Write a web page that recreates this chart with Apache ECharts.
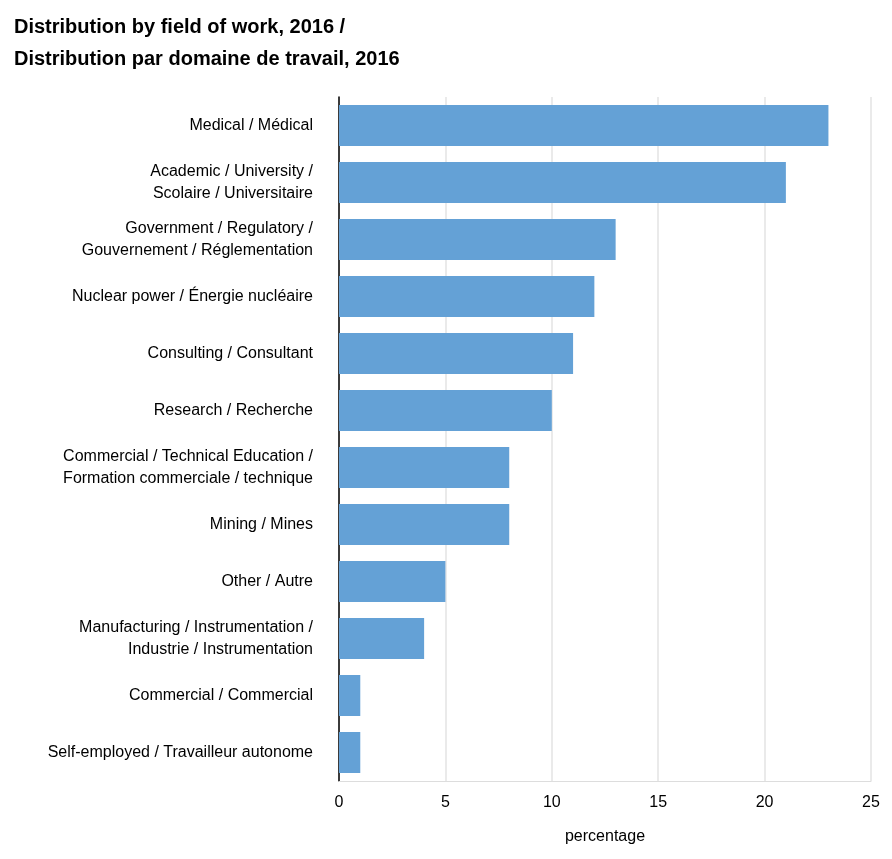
<!DOCTYPE html>
<html><head><meta charset="utf-8">
<script src="https://cdn.jsdelivr.net/npm/echarts@6/dist/echarts.min.js"></script>
<style>html,body{margin:0;padding:0;background:#fff}#c{width:892px;height:859px}</style>
</head><body><div id="c"></div>
<script>
const categories = [
 "Medical / Médical",
 "Academic / University /\nScolaire / Universitaire",
 "Government / Regulatory /\nGouvernement / Réglementation",
 "Nuclear power / Énergie nucléaire",
 "Consulting / Consultant",
 "Research / Recherche",
 "Commercial / Technical Education /\nFormation commerciale / technique",
 "Mining / Mines",
 "Other / Autre",
 "Manufacturing / Instrumentation /\nIndustrie / Instrumentation",
 "Commercial / Commercial",
 "Self-employed / Travailleur autonome"
];
const values = [23, 21, 13, 12, 11, 10, 8, 8, 5, 4, 1, 1];
const xTicks = [0, 5, 10, 15, 20, 25];
const chart = echarts.init(document.getElementById('c'));
chart.setOption({
 animation:false,
 textStyle:{fontFamily:'Liberation Sans, Arial, sans-serif'},
 title:{text:'Distribution by field of work, 2016 /\nDistribution par domaine de travail, 2016',left:9,top:6,
  textStyle:{fontSize:20,fontWeight:'bold',color:'#000',lineHeight:32,fontFamily:'Liberation Sans, Arial, sans-serif'}},
 grid:{left:339,right:21,top:97,bottom:78,containLabel:false},
 xAxis:{type:'value',min:xTicks[0],max:xTicks[xTicks.length-1],interval:5,
  name:'percentage',nameLocation:'middle',nameGap:48,nameTextStyle:{fontSize:16,color:'#000'},
  axisLabel:{fontSize:16,color:'#000',margin:14},
  axisLine:{show:true,lineStyle:{color:'#ddd'}},axisTick:{show:false},
  splitLine:{lineStyle:{color:'#e3e3e3',width:1.5}}},
 yAxis:{type:'category',inverse:true,data:categories,
  axisLabel:{fontSize:16,color:'#000',lineHeight:22,margin:26,align:'right'},
  axisLine:{lineStyle:{color:'#000',width:1.5}},axisTick:{show:false}},
 series:[{type:'bar',data:values,barWidth:'72%',itemStyle:{color:'#64a1d6'}}]
});
</script></body></html>
